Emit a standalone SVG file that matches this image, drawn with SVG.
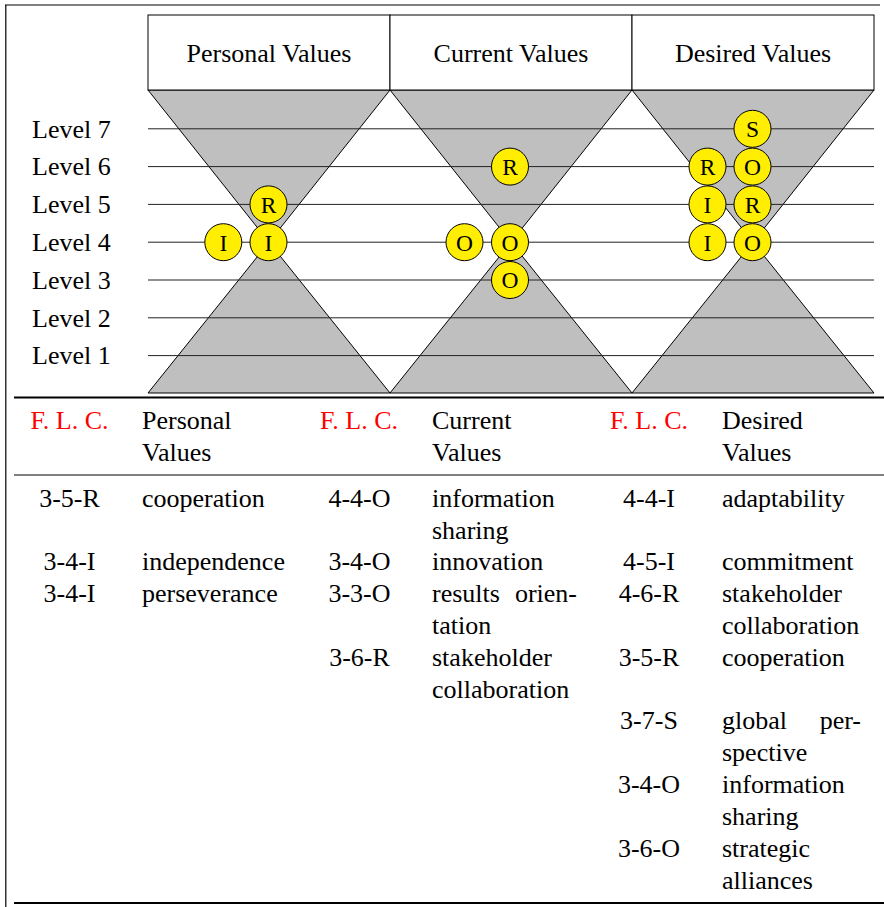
<svg xmlns="http://www.w3.org/2000/svg" width="884" height="907" viewBox="0 0 884 907">
  <style>
    text { font-family: "Liberation Serif", "Times New Roman", serif; font-size: 26px; fill: #000; }
    .hdr { text-anchor: middle; }
    .lvl { font-size: 26px; }
    .mark circle { fill: #ffee00; stroke: #000; stroke-width: 1; }
    .mark text { font-size: 23.5px; text-anchor: middle; }
    .tri { fill: #bfbfbf; stroke: #000; stroke-width: 1; }
    .box { fill: #fff; stroke: #000; stroke-width: 1; }
    .level { stroke: #222; stroke-width: 1; }
    .flc { fill: #ff0000; text-anchor: middle; }
    .code { text-anchor: middle; }
  </style>

  <!-- frame -->
  <g id="frame" fill="none" stroke="#000">
    <line x1="5" y1="5" x2="880" y2="5" stroke-width="1.2"/>
    <line x1="5.8" y1="5" x2="5.8" y2="907" stroke-width="1.2"/>
  </g>

  <!-- hourglasses -->
  <g id="hourglasses">
    <polygon class="tri" points="148,90 390,90 269,242.2"/>
    <polygon class="tri" points="148,393 390,393 269,242.2"/>
    <polygon class="tri" points="390,90 632,90 511,242.2"/>
    <polygon class="tri" points="390,393 632,393 511,242.2"/>
    <polygon class="tri" points="632,90 874,90 753,242.2"/>
    <polygon class="tri" points="632,393 874,393 753,242.2"/>
  </g>

  <!-- column headers -->
  <g id="header-personal">
    <rect class="box" x="148" y="15" width="242" height="75"/>
    <text class="hdr" x="269" y="62">Personal Values</text>
  </g>
  <g id="header-current">
    <rect class="box" x="390" y="15" width="242" height="75"/>
    <text class="hdr" x="511" y="62">Current Values</text>
  </g>
  <g id="header-desired">
    <rect class="box" x="632" y="15" width="242" height="75"/>
    <text class="hdr" x="753" y="62">Desired Values</text>
  </g>

  <!-- level rules and labels -->
  <g id="levels">
    <line class="level" x1="148" y1="128.8" x2="874" y2="128.8"/>
    <line class="level" x1="148" y1="166.6" x2="874" y2="166.6"/>
    <line class="level" x1="148" y1="204.4" x2="874" y2="204.4"/>
    <line class="level" x1="148" y1="242.2" x2="874" y2="242.2"/>
    <line class="level" x1="148" y1="280" x2="874" y2="280"/>
    <line class="level" x1="148" y1="317.8" x2="874" y2="317.8"/>
    <line class="level" x1="148" y1="355.6" x2="874" y2="355.6"/>
    <text class="lvl" x="32" y="137.5">Level 7</text>
    <text class="lvl" x="32" y="175.3">Level 6</text>
    <text class="lvl" x="32" y="213.1">Level 5</text>
    <text class="lvl" x="32" y="250.9">Level 4</text>
    <text class="lvl" x="32" y="288.7">Level 3</text>
    <text class="lvl" x="32" y="326.5">Level 2</text>
    <text class="lvl" x="32" y="364.3">Level 1</text>
  </g>

  <!-- value markers -->
  <g id="marks-personal" class="mark">
    <circle cx="223.3" cy="242.2" r="18.5"/><text x="223.3" y="250.5">I</text>
    <circle cx="268.5" cy="242.2" r="18.5"/><text x="268.5" y="250.5">I</text>
    <circle cx="268.5" cy="204.4" r="18.5"/><text x="268.5" y="212.7">R</text>
  </g>
  <g id="marks-current" class="mark">
    <circle cx="510" cy="166.6" r="18.5"/><text x="510" y="174.9">R</text>
    <circle cx="464.5" cy="242.2" r="18.5"/><text x="464.5" y="250.5">O</text>
    <circle cx="510" cy="242.2" r="18.5"/><text x="510" y="250.5">O</text>
    <circle cx="510" cy="280" r="18.5"/><text x="510" y="288.3">O</text>
  </g>
  <g id="marks-desired" class="mark">
    <circle cx="752.5" cy="128.8" r="18.5"/><text x="752.5" y="137.1">S</text>
    <circle cx="752.5" cy="166.6" r="18.5"/><text x="752.5" y="174.9">O</text>
    <circle cx="752.5" cy="204.4" r="18.5"/><text x="752.5" y="212.7">R</text>
    <circle cx="752.5" cy="242.2" r="18.5"/><text x="752.5" y="250.5">O</text>
    <circle cx="707.5" cy="166.6" r="18.5"/><text x="707.5" y="174.9">R</text>
    <circle cx="707.5" cy="204.4" r="18.5"/><text x="707.5" y="212.7">I</text>
    <circle cx="707.5" cy="242.2" r="18.5"/><text x="707.5" y="250.5">I</text>
  </g>

  <!-- table rules -->
  <g id="table-rules" stroke="#000">
    <line x1="14" y1="397.5" x2="884" y2="397.5" stroke-width="2"/>
    <line x1="14" y1="475" x2="884" y2="475" stroke-width="1.2"/>
    <line x1="14" y1="903" x2="884" y2="903" stroke-width="2"/>
  </g>

  <!-- table header -->
  <g id="table-header">
    <text class="flc" x="69.5" y="429">F. L. C.</text>
    <text x="142" y="429">Personal</text>
    <text x="142" y="461">Values</text>
    <text class="flc" x="359" y="429">F. L. C.</text>
    <text x="432" y="429">Current</text>
    <text x="432" y="461">Values</text>
    <text class="flc" x="649" y="429">F. L. C.</text>
    <text x="722" y="429">Desired</text>
    <text x="722" y="461">Values</text>
  </g>

  <!-- personal values column -->
  <g id="table-personal">
    <text class="code" x="69.5" y="506.5">3-5-R</text>
    <text x="142" y="506.5">cooperation</text>
    <text class="code" x="69.5" y="570">3-4-I</text>
    <text x="142" y="570">independence</text>
    <text class="code" x="69.5" y="602">3-4-I</text>
    <text x="142" y="602">perseverance</text>
  </g>

  <!-- current values column -->
  <g id="table-current">
    <text class="code" x="359.5" y="506.5">4-4-O</text>
    <text x="432" y="506.5">information</text>
    <text x="432" y="538.5">sharing</text>
    <text class="code" x="359.5" y="570">3-4-O</text>
    <text x="432" y="570">innovation</text>
    <text class="code" x="359.5" y="602">3-3-O</text>
    <text y="602"><tspan x="432">results</tspan> <tspan x="577" text-anchor="end">orien-</tspan></text>
    <text x="432" y="634">tation</text>
    <text class="code" x="359.5" y="665.5">3-6-R</text>
    <text x="432" y="665.5">stakeholder</text>
    <text x="432" y="697.5">collaboration</text>
  </g>

  <!-- desired values column -->
  <g id="table-desired">
    <text class="code" x="649" y="506.5">4-4-I</text>
    <text x="722" y="506.5">adaptability</text>
    <text class="code" x="649" y="570">4-5-I</text>
    <text x="722" y="570">commitment</text>
    <text class="code" x="649" y="602">4-6-R</text>
    <text x="722" y="602">stakeholder</text>
    <text x="722" y="634">collaboration</text>
    <text class="code" x="649" y="665.5">3-5-R</text>
    <text x="722" y="665.5">cooperation</text>
    <text class="code" x="649" y="729">3-7-S</text>
    <text y="729"><tspan x="722">global</tspan> <tspan x="861" text-anchor="end">per-</tspan></text>
    <text x="722" y="761">spective</text>
    <text class="code" x="649" y="792.5">3-4-O</text>
    <text x="722" y="792.5">information</text>
    <text x="722" y="824.5">sharing</text>
    <text class="code" x="649" y="856.5">3-6-O</text>
    <text x="722" y="856.5">strategic</text>
    <text x="722" y="888.5">alliances</text>
  </g>
</svg>
